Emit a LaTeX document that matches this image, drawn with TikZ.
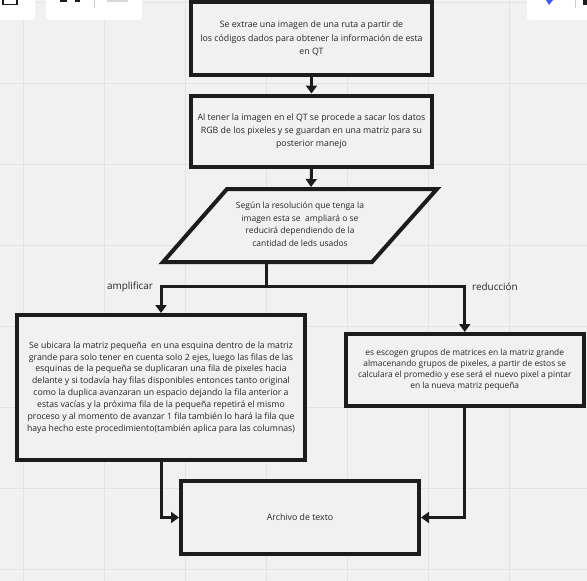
\documentclass[tikz,border=0pt]{standalone}
\usepackage{fontspec}
\setmainfont{Open Sans}
\usetikzlibrary{arrows.meta}
\definecolor{bg}{HTML}{F1F1F1}
\definecolor{gridc}{HTML}{E3E3E3}
\definecolor{edge}{HTML}{1C1C1C}
\definecolor{txt}{HTML}{262626}
\definecolor{uiblue}{HTML}{3D5AFE}
\tikzset{
  box/.style={draw=edge, line width=4pt, fill=bg, text=txt, align=center, inner sep=0pt},
  conn/.style={draw=edge, line width=3pt},
  arr/.style={conn, -{Triangle[width=11pt,length=8pt]}},
  lbl/.style={text=txt, font=\fontsize{9.9}{11}\selectfont, inner sep=0pt},
  f8/.style={font=\fontsize{8.8}{13.3}\selectfont},
  f7/.style={font=\fontsize{8.7}{11.9}\selectfont},
}
\begin{document}
\begin{tikzpicture}[x=1pt,y=-1pt]
\useasboundingbox (0,0) rectangle (587,581);
\fill[bg] (0,0) rectangle (587,581);
% grid
\foreach \gx in {23,104,185,266,347,428,509} \draw[gridc, line width=0.8pt] (\gx,0) -- (\gx,581);
\foreach \gy in {2,83,164,245,326,407,488,569} \draw[gridc, line width=0.8pt] (0,\gy) -- (587,\gy);
% UI panels at the top
\fill[white, rounded corners=3pt] (-5,-5) rectangle (35,20);
\draw[edge, line width=1.2pt] (3,-3) rectangle (17,4.5);
\fill[white, rounded corners=3pt] (46,-5) rectangle (142,20);
\fill[edge] (60,0) rectangle (67,1.5);
\fill[edge] (75,0) rectangle (80,1.5);
\draw[gray!40, line width=0.8pt] (94,0) -- (94,8);
\fill[gray!30] (107,0) rectangle (128,2);
\fill[white, rounded corners=3pt] (527,-5) rectangle (592,20);
\fill[uiblue] (546,0) -- (553,0) -- (549,5) -- cycle;
\draw[gray!40, line width=0.8pt] (575,0) -- (575,8);
\fill[edge] (583,0) rectangle (587,5);

% boxes
\node[box, f8, minimum width=241pt, minimum height=73pt] (b1) at (311.5,38.5)
  {\raisebox{-2pt}{\parbox{240pt}{\centering Se extrae una imagen de una ruta a partir de\\los códigos dados para obtener la información de esta\\en QT}}};
\node[box, f8, minimum width=241pt, minimum height=71.5pt] (b2) at (311.5,131.3)
  {Al tener la imagen en el QT se procede a sacar los datos\\RGB de los pixeles y se guardan en una matriz para su\\posterior manejo};

% parallelogram
\coordinate (p1) at (227,189);
\coordinate (p2) at (437,189);
\coordinate (p3) at (372,262);
\coordinate (p4) at (163,262);
\draw[draw=edge, line width=4pt, fill=bg, line join=miter] (p1) -- (p2) -- (p3) -- (p4) -- cycle;
\node[text=txt, align=center, font=\fontsize{8.5}{12.5}\selectfont, inner sep=0pt] (pt) at (300,224.5)
  {Según la resolución que tenga la\\imagen esta se \ ampliará o se\\reducirá dependiendo de la\\cantidad de leds usados};
\coordinate (ptop) at (311,187);
\coordinate (pbot) at (266,262);
\coordinate (split) at (266,286);

\node[box, f7, minimum width=288pt, minimum height=145pt] (L) at (161,387.5)
  {Se ubicara la matriz pequeña \ en una esquina dentro de la matriz\\grande para solo tener en cuenta solo 2 ejes, luego las filas de las\\esquinas de la pequeña se duplicaran una fila de pixeles hacia\\delante y si todavía hay filas disponibles entonces tanto original\\como la duplica avanzaran un espacio dejando la fila anterior a\\estas vacías y la próxima fila de la pequeña repetirá el mismo\\proceso y al momento de avanzar 1 fila también lo hará la fila que\\haya hecho este procedimiento(también aplica para las columnas)};
\node[box, font=\fontsize{8.4}{10.9}\selectfont, minimum width=238.5pt, minimum height=72pt] (R) at (464.75,370)
  {\raisebox{2pt}{\parbox{236pt}{\centering es escogen grupos de matrices en la matriz grande\\almacenando grupos de pixeles, a partir de estos se\\calculara el promedio y ese será el nuevo pixel a pintar\\en la nueva matriz pequeña}}};
\node[box, f8, minimum width=238pt, minimum height=73pt] (A) at (300,517.5) {Archivo de texto};

% connectors
\draw[arr] (b1.south) -- (b2.north);
\draw[arr] (b2.south) -- (ptop);
\draw[conn] (pbot) -- (split);
\draw[arr] (split) -| (L.north);
\draw[arr] (split) -| (R.north);
\draw[arr] (L.south) |- (A.west);
\draw[arr] (R.south) |- (A.east);

\node[lbl] (la) at (130,287) {amplificar};
\node[lbl] (lr) at (495,287) {reducción};
\end{tikzpicture}
\end{document}
